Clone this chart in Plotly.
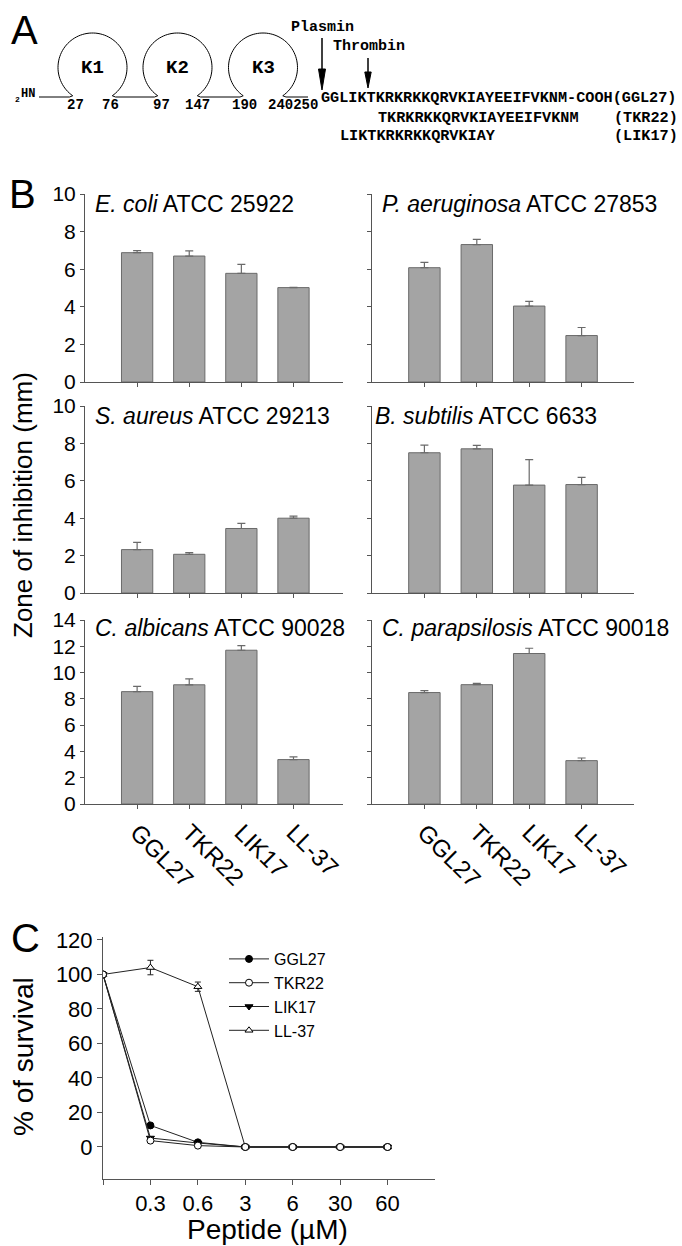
import plotly.graph_objects as go
import numpy as np

W, H = 682, 1246


def X(px):
    return px / W


def Y(py):
    return 1 - py / H


# ---------------- data ----------------
peptides = ["GGL27", "TKR22", "LIK17", "LL-37"]

strain_titles = [
    "<i>E. coli</i> ATCC 25922",
    "<i>P. aeruginosa</i> ATCC 27853",
    "<i>S. aureus</i> ATCC 29213",
    "<i>B. subtilis</i> ATCC 6633",
    "<i>C. albicans</i> ATCC 90028",
    "<i>C. parapsilosis</i> ATCC 90018",
]
ecoli = [6.88, 6.70, 5.78, 5.02]
ecoli_err = [0.11, 0.28, 0.48, 0.02]
paer = [6.08, 7.31, 4.04, 2.47]
paer_err = [0.28, 0.28, 0.25, 0.43]
saur = [2.32, 2.07, 3.45, 4.00]
saur_err = [0.39, 0.09, 0.27, 0.11]
bsub = [7.50, 7.71, 5.77, 5.80]
bsub_err = [0.41, 0.18, 1.36, 0.38]
calb = [8.55, 9.07, 11.70, 3.38]
calb_err = [0.40, 0.45, 0.35, 0.20]
cpar = [8.48, 9.08, 11.45, 3.30]
cpar_err = [0.15, 0.10, 0.40, 0.20]

bar_values = [ecoli, paer, saur, bsub, calb, cpar]
bar_errors = [ecoli_err, paer_err, saur_err, bsub_err, calb_err, cpar_err]
row_ymax = [10, 10, 14]

conc_labels = ["", "0.3", "0.6", "3", "6", "30", "60"]
ggl27 = [100, 12.5, 2.7, 0, 0, 0, 0]
tkr22 = [100, 3.7, 0.8, 0, 0, 0, 0]
lik17 = [100, 5.2, 2.3, 0, 0, 0, 0]
ll37 = [100, 104.0, 92.9, 0, 0, 0, 0]
ll37_err = [0, 4.2, 2.7, 0, 0, 0, 0]

# ---------------- layout geometry ----------------
col_dom = [(85, 343), (372, 634)]
col_rng = [[-1, 3.95], [-1, 4.0]]
row_dom = [(194, 382), (406, 593), (620, 804)]
title_x = [93, 380, 93, 373, 93, 380]
title_y = [204, 204, 416, 416, 628, 628]

FONT = "Arial, Liberation Sans, sans-serif"
MONO = "Courier New, Liberation Mono, monospace"
AX = "#555555"
BAR = "#a4a4a4"
BAR_EDGE = "#6a6a6a"

fig = go.Figure()
layout = {}
annotations = []
shapes = []

for i in range(6):
    r, c = divmod(i, 2)
    n = i + 1
    xa = "x" if n == 1 else f"x{n}"
    ya = "y" if n == 1 else f"y{n}"
    xi = list(range(len(peptides)))
    fig.add_trace(go.Bar(
        x=xi, y=bar_values[i], width=0.6,
        marker=dict(color=BAR, line=dict(color=BAR_EDGE, width=1)),
        error_y=dict(type="data", symmetric=False, array=bar_errors[i],
                     arrayminus=[0] * len(peptides), color=BAR_EDGE,
                     thickness=1.2, width=4),
        xaxis=xa, yaxis=ya, showlegend=False, hoverinfo="skip"))
    xkey = "xaxis" if n == 1 else f"xaxis{n}"
    ykey = "yaxis" if n == 1 else f"yaxis{n}"
    d0, d1 = col_dom[c]
    t0, t1 = row_dom[r]
    layout[xkey] = dict(
        domain=[X(d0), X(d1)], range=col_rng[c], anchor=ya,
        showline=True, linecolor=AX, linewidth=1, ticks="outside",
        ticklen=4, tickcolor=AX, tickvals=xi, ticktext=peptides,
        showticklabels=(r == 2), tickangle=45,
        tickfont=dict(family=FONT, size=24, color="black"),
        showgrid=False, zeroline=False, fixedrange=True)
    layout[ykey] = dict(
        domain=[Y(t1), Y(t0)], range=[0, row_ymax[r]], anchor=xa,
        showline=True, linecolor=AX, linewidth=1, ticks="outside",
        ticklen=4, tickcolor=AX, dtick=2, showticklabels=(c == 0),
        tickfont=dict(family=FONT, size=21, color="black"),
        showgrid=False, zeroline=False, fixedrange=True)
    annotations.append(dict(
        text=strain_titles[i], x=X(title_x[i]), y=Y(title_y[i]),
        xref="paper", yref="paper", xanchor="left", yanchor="middle",
        showarrow=False, font=dict(family=FONT, size=23, color="black")))

# ---------------- panel C ----------------
cx = list(range(len(conc_labels)))
series = [
    ("GGL27", ggl27, "circle", "black", None, 1),
    ("LIK17", lik17, "triangle-down", "black", None, 3),
    ("LL-37", ll37, "triangle-up", "white", ll37_err, 4),
    ("TKR22", tkr22, "circle", "white", None, 2),
]
for name, vals, sym, fill, err, rank in series:
    fig.add_trace(go.Scatter(
        x=cx, y=vals, name=name, mode="lines+markers",
        line=dict(color="#222222", width=1),
        marker=dict(symbol=sym, size=7, color=fill,
                    line=dict(color="black", width=1)),
        error_y=(dict(type="data", array=err, color="#222222",
                      thickness=1, width=3) if err else None),
        legendrank=rank, xaxis="x7", yaxis="y7", hoverinfo="skip"))

layout["xaxis7"] = dict(
    domain=[X(103), X(435)], range=[0, 7], anchor="y7",
    showline=True, linecolor=AX, linewidth=1, ticks="outside", ticklen=5,
    tickcolor=AX, tickvals=cx, ticktext=conc_labels,
    tickfont=dict(family=FONT, size=22, color="black"),
    showgrid=False, zeroline=False, fixedrange=True)
layout["yaxis7"] = dict(
    domain=[Y(1179), Y(937)], range=[-18.55, 121.7], anchor="x7",
    showline=True, linecolor=AX, linewidth=1, ticks="outside", ticklen=5,
    tickcolor=AX, tickvals=[0, 20, 40, 60, 80, 100, 120],
    tickfont=dict(family=FONT, size=22, color="black"),
    showgrid=False, zeroline=False, fixedrange=True)


def text(t, x, y, size, family=FONT, xanchor="center", angle=0, bold=False):
    annotations.append(dict(
        text=(f"<b>{t}</b>" if bold else t), x=X(x), y=Y(y),
        xref="paper", yref="paper", xanchor=xanchor, yanchor="middle",
        showarrow=False, textangle=angle,
        font=dict(family=family, size=size, color="black")))


# axis titles and panel letters
text("Zone of inhibition (mm)", 23, 505, 26, angle=-90)
text("% of survival", 23, 1057, 28, angle=-90)
text("Peptide (µM)", 267, 1229, 28)
text("A", 24, 30, 40)
text("B", 22, 194, 40)
text("C", 25, 938, 40)

# ---------------- panel A schematic ----------------
kr_centers = [92.5, 177.5, 263.0]
kr_names = ["K1", "K2", "K3"]
kcy, kr = 67.5, 34.5
base_y = 97
phi = np.radians(np.linspace(-145, 145, 80))
ends = []
for kxc, nm in zip(kr_centers, kr_names):
    px = kxc + kr * np.sin(phi)
    py = kcy - kr * np.cos(phi)
    pts = [(kxc - 23, base_y)] + list(zip(px, py)) + [(kxc + 23, base_y)]
    path = "M " + " L ".join(f"{X(a):.5f},{Y(b):.5f}" for a, b in pts)
    shapes.append(dict(type="path", path=path, xref="paper", yref="paper",
                       line=dict(color="black", width=1)))
    ends.append((kxc - 23, kxc + 23))
    text(nm, kxc, 68, 19, family=MONO, bold=True)

seg_x = [39] + [v for e in ends for v in e] + [308]
for a, b in zip(seg_x[0::2], seg_x[1::2]):
    shapes.append(dict(type="line", x0=X(a), x1=X(b), y0=Y(base_y),
                       y1=Y(base_y), xref="paper", yref="paper",
                       line=dict(color="black", width=1)))

for lbl, xc in [("27", 75), ("76", 110), ("97", 161), ("147", 197), ("190", 244)]:
    text(lbl, xc, 105, 14, family=MONO, bold=True)
text("240250", 266, 105, 14, family=MONO, xanchor="left", bold=True)
text("HN", 19, 94, 12, family=MONO, xanchor="left", bold=True)
text("2", 13, 100, 8, family=MONO, xanchor="left", bold=True)


def arrow(xc, y0, y1, hw, hl):
    shapes.append(dict(type="line", x0=X(xc), x1=X(xc), y0=Y(y0),
                       y1=Y(y1 - hl + 3), xref="paper", yref="paper",
                       line=dict(color="black", width=1.5)))
    p = (f"M {X(xc - hw):.5f},{Y(y1 - hl):.5f} L {X(xc + hw):.5f},{Y(y1 - hl):.5f} "
         f"L {X(xc):.5f},{Y(y1):.5f} Z")
    shapes.append(dict(type="path", path=p, xref="paper", yref="paper",
                       fillcolor="black", line=dict(color="black", width=1)))


arrow(322, 38, 90, 3.5, 21)
arrow(368, 58, 88, 3.2, 16)
text("Plasmin", 289, 27, 15, family=MONO, xanchor="left", bold=True)
text("Thrombin", 331, 47, 15, family=MONO, xanchor="left", bold=True)

# sequence rows
text("GGLIKTKRKRKKQRVKIAYEEIFVKNM-COOH(GGL27)", 319, 98, 15.2,
     family=MONO, xanchor="left", bold=True)
seq_rows = [
    ("TKRKRKKQRVKIAYEEIFVKNM", "(TKR22)", 376, 118),
    ("LIKTKRKRKKQRVKIAY", "(LIK17)", 338, 136),
]
for seq, tag, sx, sy in seq_rows:
    text(seq, sx, sy, 15.2, family=MONO, xanchor="left", bold=True)
    text(tag, 680, sy, 15.2, family=MONO, xanchor="right", bold=True)

fig.update_layout(
    width=W, height=H,
    margin=dict(l=0, r=0, t=0, b=0, autoexpand=False),
    paper_bgcolor="white", plot_bgcolor="white",
    font=dict(family=FONT, color="black"),
    showlegend=True,
    legend=dict(x=X(224), y=Y(942), xanchor="left", yanchor="top",
                bgcolor="rgba(0,0,0,0)", font=dict(family=FONT, size=16),
                tracegroupgap=0, itemwidth=40),
    annotations=annotations, shapes=shapes,
    bargap=0.4,
    **layout,
)

fig.write_html(
    "out.html",
    config={"displayModeBar": False},
    post_script="document.body.style.margin='0';document.body.style.overflow='hidden';",
)
